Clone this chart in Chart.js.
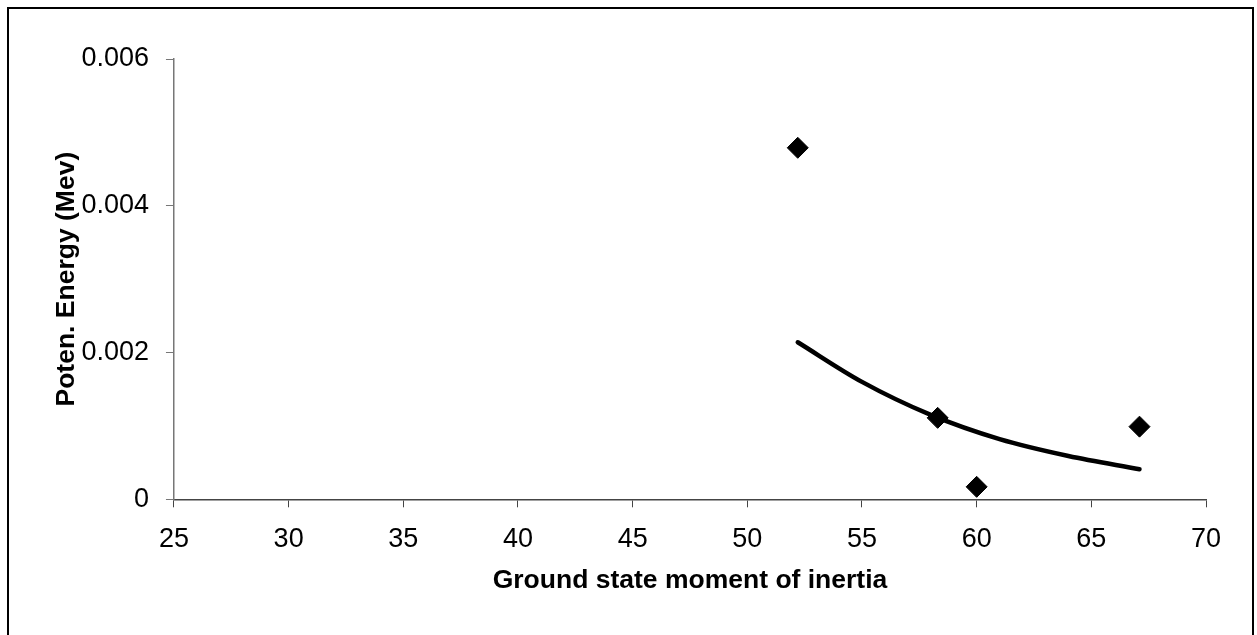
<!DOCTYPE html>
<html>
<head>
<meta charset="utf-8">
<script src="https://cdn.jsdelivr.net/npm/chart.js@4.4.1/dist/chart.umd.min.js"></script>
<style>
html,body{margin:0;padding:0;background:#fff;overflow:hidden;}
#wrap{position:relative;width:1257px;height:635px;}
#frame{position:absolute;left:7px;top:7px;width:1247px;height:700px;border:2px solid #000;pointer-events:none;box-sizing:border-box;}
canvas{position:absolute;left:0;top:0;}
</style>
</head>
<body>
<div id="wrap">
<canvas id="c" width="1257" height="635"></canvas>
<div id="frame"></div>
</div>
<script>
// Data points (Ground state moment of inertia vs Poten. Energy)
const momentOfInertia = [52.2, 58.3, 60.0, 67.1];
const potentialEnergy = [0.00479, 0.00111, 0.00017, 0.00099];
// Trendline (exponential)
const trendX = [52.2, 55, 58, 61, 64, 67.1];
const trendY = [0.00214, 0.00160, 0.00115, 0.00082, 0.00059, 0.00041];
// Axis settings
const xTicks = [25, 30, 35, 40, 45, 50, 55, 60, 65, 70];
const yTicks = [0, 0.002, 0.004, 0.006];
const xTitle = 'Ground state moment of inertia';
const yTitle = 'Poten. Energy (Mev)';

const pts = momentOfInertia.map((x, i) => ({x: x, y: potentialEnergy[i]}));
const trend = trendX.map((x, i) => ({x: x, y: trendY[i]}));
const FONT = '"Liberation Sans", Arial, sans-serif';

new Chart(document.getElementById('c'), {
  type: 'scatter',
  data: {
    datasets: [
      {
        label: 'Trend',
        data: trend,
        showLine: true,
        borderColor: '#000',
        borderWidth: 4.5,
        pointRadius: 0,
        cubicInterpolationMode: 'monotone',
        borderCapStyle: 'round',
        fill: false,
        order: 2
      },
      {
        label: 'Data',
        data: pts,
        pointStyle: 'rectRot',
        pointRadius: 10.5,
        pointBackgroundColor: '#000',
        pointBorderColor: '#000',
        pointBorderWidth: 1,
        showLine: false,
        order: 1
      }
    ]
  },
  options: {
    responsive: false,
    animation: false,
    devicePixelRatio: 1,
    layout: {padding: {left: 50.6, right: 51, top: 59, bottom: 38.8}},
    plugins: {legend: {display: false}, tooltip: {enabled: false}},
    scales: {
      x: {
        type: 'linear',
        min: 25, max: 70,
        afterBuildTicks: (s) => { s.ticks = xTicks.map(v => ({value: v})); },
        ticks: {
          color: '#000',
          padding: 16,
          font: {family: FONT, size: 27},
          callback: (v) => String(v)
        },
        grid: {display: true, drawOnChartArea: false, drawTicks: true, tickLength: 8, color: '#444', lineWidth: 1},
        border: {display: true, color: '#444', width: 1.5},
        title: {
          display: true, text: xTitle, color: '#000',
          padding: {top: -7.3, bottom: 0},
          font: {family: FONT, size: 26.5, weight: 'bold'}
        }
      },
      y: {
        type: 'linear',
        min: 0, max: 0.006,
        afterBuildTicks: (s) => { s.ticks = yTicks.map(v => ({value: v})); },
        ticks: {
          color: '#000',
          padding: 17,
          font: {family: FONT, size: 27},
          callback: (v) => v === 0 ? '0' : v.toFixed(3)
        },
        grid: {display: true, drawOnChartArea: false, drawTicks: true, tickLength: 8, color: '#777', lineWidth: 1},
        border: {display: true, color: '#777', width: 1.5},
        title: {
          display: true, text: yTitle, color: '#000',
          padding: {top: 0, bottom: -18},
          font: {family: FONT, size: 26.5, weight: 'bold'}
        }
      }
    }
  }
});
</script>
</body>
</html>
